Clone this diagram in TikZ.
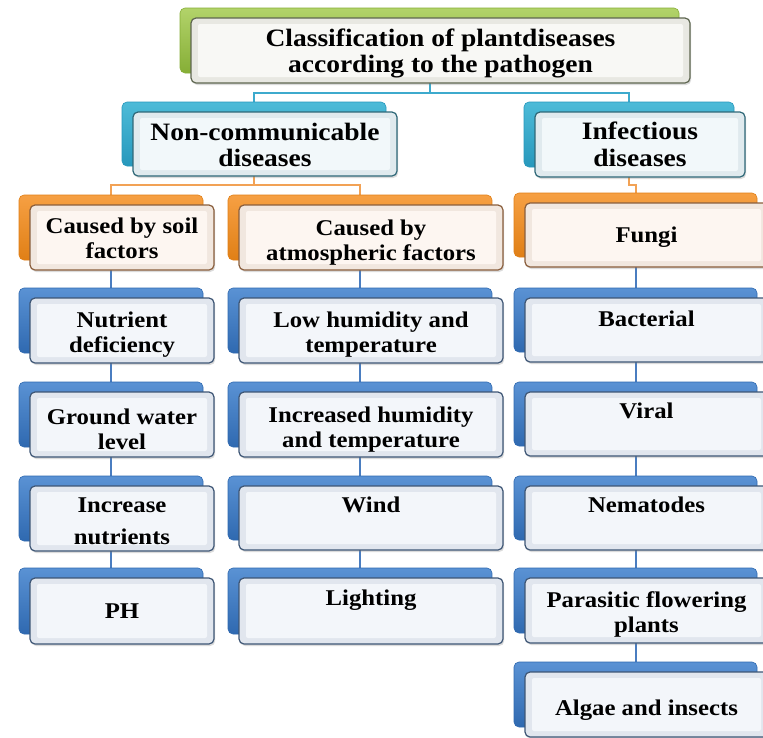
\documentclass[tikz,border=0pt]{standalone}
\usepackage{fontspec}
\setmainfont{Liberation Serif}[FakeStretch=1.1]
\usetikzlibrary{calc,shadows}
\pgfdeclarelayer{bg}
\pgfsetlayers{bg,main}
% shadow (back) colours
\definecolor{grT}{HTML}{B2D36A}\definecolor{grD}{HTML}{86AE36}
\definecolor{cyT}{HTML}{4DBBD8}\definecolor{cyD}{HTML}{2798BC}
\definecolor{orT}{HTML}{F6A043}\definecolor{orD}{HTML}{E07F16}
\definecolor{blT}{HTML}{5A92D4}\definecolor{blD}{HTML}{2F69B0}
% front box colours: border, edge, inner
\definecolor{grB}{HTML}{5E6650}\definecolor{grE}{HTML}{E8E8E2}\definecolor{grI}{HTML}{F8F8F5}
\definecolor{cyB}{HTML}{2F6878}\definecolor{cyE}{HTML}{E0EAEE}\definecolor{cyI}{HTML}{F2F8FA}
\definecolor{orB}{HTML}{8A5E3C}\definecolor{orE}{HTML}{F1E7DF}\definecolor{orI}{HTML}{FDF6F1}
\definecolor{blB}{HTML}{3E5675}\definecolor{blE}{HTML}{E1E6EE}\definecolor{blI}{HTML}{F3F6FA}
% connector colours
\definecolor{cyL}{HTML}{3DAACD}
\definecolor{orL}{HTML}{F2A255}
\definecolor{blL}{HTML}{4A7DC0}
\tikzset{
  shbox/.style={rectangle, rounded corners=5pt, inner sep=0pt, top color=#1T, bottom color=#1D, draw=#1D, line width=0.6pt},
  frbox/.style={rectangle, rounded corners=5pt, inner sep=0pt, fill=#1E, draw=#1B, line width=1.2pt,
    drop shadow={opacity=.28, shadow xshift=1.2pt, shadow yshift=-2pt},
    path picture={\fill[#1I, rounded corners=2pt] ([shift={(7pt,-6pt)}]path picture bounding box.north west) rectangle ([shift={(-7pt,6pt)}]path picture bounding box.south east);}},
  tA/.style={align=center, inner sep=0pt, font=\fontsize{25}{26.5}\selectfont\bfseries},
  tB/.style={align=center, inner sep=0pt, font=\fontsize{22.5}{24.5}\selectfont\bfseries},
  conn/.style={line width=2pt, draw=#1L}
}
\newcommand\mybox[6]{%
  \node[shbox=#6, minimum width={(#4)-(#2)}, minimum height={(#5)-(#3)}] (s#1) at ({(#2+#4)/2-11},{(#3+#5)/2-10}) {};
  \node[frbox=#6, minimum width={(#4)-(#2)}, minimum height={(#5)-(#3)}] (#1) at ({(#2+#4)/2},{(#3+#5)/2}) {};
}
\begin{document}
\begin{tikzpicture}[x=1pt,y=-1pt]
\useasboundingbox (0,0) rectangle (763,737);
\clip (0,0) rectangle (763,737);
\begin{pgfonlayer}{bg}
\fill[white] (0,0) rectangle (763,737);
\end{pgfonlayer}

\mybox{top}{191}{18}{690}{83}{gr}
\mybox{nc}{133}{112}{397}{176}{cy}
\mybox{inf}{535}{112}{745}{177}{cy}
\mybox{soil}{30}{205}{214}{270}{or}
\mybox{atm}{239}{205}{503}{270}{or}
\mybox{fun}{525}{203}{768}{267}{or}
\mybox{nut}{30}{298}{214}{363}{bl}
\mybox{gw}{30}{392}{214}{457}{bl}
\mybox{inc}{30}{486}{214}{551}{bl}
\mybox{ph}{30}{578}{214}{644}{bl}
\mybox{low}{239}{298}{503}{363}{bl}
\mybox{ihu}{239}{392}{503}{457}{bl}
\mybox{wind}{239}{486}{503}{550}{bl}
\mybox{light}{239}{578}{503}{644}{bl}
\mybox{bac}{525}{298}{768}{362}{bl}
\mybox{vir}{525}{392}{768}{456}{bl}
\mybox{nem}{525}{486}{768}{550}{bl}
\mybox{par}{525}{578}{768}{643}{bl}
\mybox{alg}{525}{672}{768}{737}{bl}

\begin{pgfonlayer}{bg}
\coordinate (b1) at (0,93);
\coordinate (b2) at (0,185);
\draw[conn=cy] (stop.south) -- (stop.south |- b1) -| (snc.north);
\draw[conn=cy] (stop.south |- b1) -| (sinf.north);
\draw[conn=or] (snc.south) -- (snc.south |- b2) -| (ssoil.north);
\draw[conn=or] (snc.south |- b2) -| (satm.north);
\draw[conn=or] (sinf.south) -- (sinf.south |- b2) -| (sfun.north);
\draw[conn=bl] (ssoil.south) -- (snut.north);
\draw[conn=bl] (snut.south) -- (sgw.north);
\draw[conn=bl] (sgw.south) -- (sinc.north);
\draw[conn=bl] (sinc.south) -- (sph.north);
\draw[conn=bl] (satm.south) -- (slow.north);
\draw[conn=bl] (slow.south) -- (sihu.north);
\draw[conn=bl] (sihu.south) -- (swind.north);
\draw[conn=bl] (swind.south) -- (slight.north);
\draw[conn=bl] (sfun.south) -- (sbac.north);
\draw[conn=bl] (sbac.south) -- (svir.north);
\draw[conn=bl] (svir.south) -- (snem.north);
\draw[conn=bl] (snem.south) -- (spar.north);
\draw[conn=bl] (spar.south) -- (salg.north);
\end{pgfonlayer}

\node[tA] (ttop) at ($(top)+(0,3)$) {Classification of plantdiseases\\according to the pathogen};
\node[tA] (tnc) at ($(nc)+(0,1)$) {Non-communicable\\diseases};
\node[tA] (tinf) at ($(inf)+(0,0)$) {Infectious\\diseases};
\node[tB] (tsoil) at ($(soil)+(0,1)$) {Caused by soil\\factors};
\node[tB] (tatm) at ($(atm)+(0,5)$) {Caused by\\atmospheric factors};
\node[tB] (tfun) at ($(fun)+(0,2)$) {Fungi};
\node[tB] (tnut) at ($(nut)+(0,4)$) {Nutrient\\deficiency};
\node[tB] (tgw) at ($(gw)+(0,5)$) {Ground water\\level};
\node[tB] (tinc) at ($(inc)+(0,3)$) {Increase\\[8pt]nutrients};
\node[tB] (tph) at ($(ph)+(0,0)$) {PH};
\node[tB] (tlow) at ($(low)+(0,4)$) {Low humidity and\\temperature};
\node[tB] (tihu) at ($(ihu)+(0,5)$) {Increased humidity\\and temperature};
\node[tB] (twind) at ($(wind)+(0,-13)$) {Wind};
\node[tB] (tlight) at ($(light)+(0,-11)$) {Lighting};
\node[tB] (tbac) at ($(bac)+(0,-11)$) {Bacterial};
\node[tB] (tvir) at ($(vir)+(0,-13)$) {Viral};
\node[tB] (tnem) at ($(nem)+(0,-13)$) {Nematodes};
\node[tB] (tpar) at ($(par)+(0,4)$) {Parasitic flowering\\plants};
\node[tB] (talg) at ($(alg)+(0,6)$) {Algae and insects};
\end{tikzpicture}
\end{document}
